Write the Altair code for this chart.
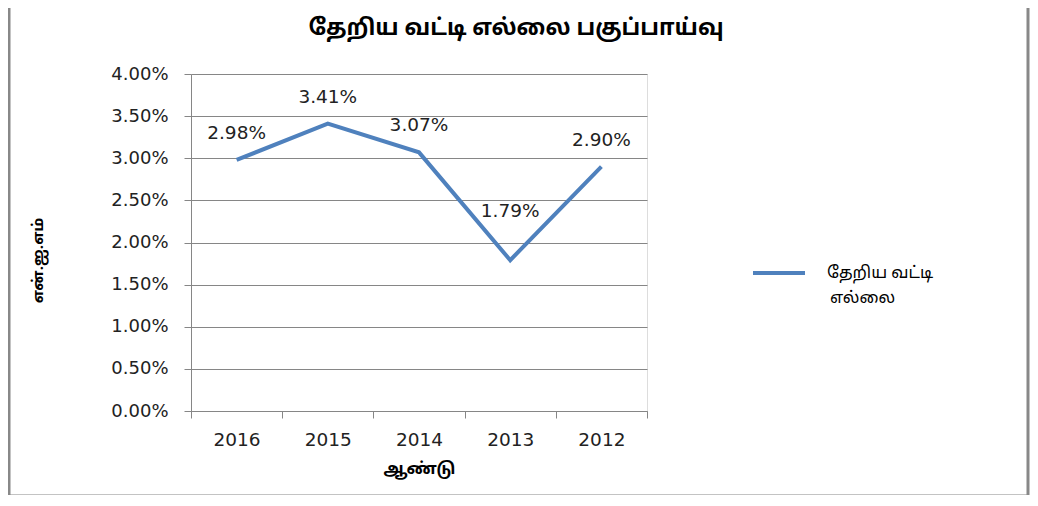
import altair as alt
import pandas as pd

years = ["2016", "2015", "2014", "2013", "2012"]
values = [0.0298, 0.0341, 0.0307, 0.0179, 0.0290]
series_name = "தேறிய வட்டி எல்லை"
title_text = "தேறிய வட்டி எல்லை பகுப்பாய்வு"
y_title = "என்.ஐ.எம்"
x_title = "ஆண்டு"

df = pd.DataFrame({"year": years, "value": values, "series": [series_name] * len(years)})

TAMIL = "Latha, 'Noto Sans Tamil', 'Noto Sans', sans-serif"
LATIN = "'DejaVu Sans', Verdana, sans-serif"
BLUE = "#4F81BD"
GRID = "#868686"

x_enc = alt.X("year:N", sort=years, title=x_title,
              scale=alt.Scale(paddingInner=0, paddingOuter=0),
              axis=alt.Axis(labelAngle=0, tickBand="extent", tickSize=7, labelPadding=12,
                            labelFont=LATIN, labelFontSize=18.5, labelColor="#222",
                            titleFont=TAMIL, titleFontSize=16.5, titleFontWeight="bold",
                            titleColor="#000", titlePadding=12,
                            domainColor=GRID, tickColor=GRID, grid=False))
y_enc = alt.Y("value:Q", title=y_title,
              scale=alt.Scale(domain=[0, 0.04], nice=False),
              axis=alt.Axis(format=".2%", values=[i * 0.005 for i in range(9)],
                            tickSize=7, labelPadding=16,
                            labelFont=LATIN, labelFontSize=18, labelColor="#222",
                            titleFont=TAMIL, titleFontSize=15, titleFontWeight="bold",
                            titleColor="#000", titlePadding=65, titleY=186,
                            domainColor=GRID, tickColor=GRID, gridColor=GRID))

border = alt.Chart(pd.DataFrame({"a": [0]})).mark_rect(
    filled=False, stroke="#888888", strokeWidth=3
).encode(x=alt.value(-182), x2=alt.value(837), y=alt.value(-90), y2=alt.value(422))

title_mark = alt.Chart(pd.DataFrame({"t": [title_text]})).mark_text(
    font=TAMIL, fontSize=22.5, fontWeight="bold", color="#000", align="center", baseline="middle"
).encode(text="t:N", x=alt.value(325), y=alt.value(-46))

line = alt.Chart(df).mark_line(color=BLUE, strokeWidth=4).encode(
    x=x_enc, y=y_enc,
    color=alt.Color("series:N", scale=alt.Scale(range=[BLUE]),
                    legend=alt.Legend(title=None, orient="none", legendX=560, legendY=171,
                                      symbolType="stroke", symbolSize=2704, symbolStrokeWidth=4,
                                      labelFont=TAMIL, labelFontSize=16.5, labelColor="#000",
                                      labelExpr="split(datum.label, ' ')[0] + '  ' + split(datum.label, ' ')[1]",
                                      labelOffset=20, labelLimit=250))
)

labels_main = alt.Chart(df).transform_filter(alt.datum.year != "2013").mark_text(
    dy=-27, font=LATIN, fontSize=18.5, color="#222"
).encode(x=alt.X("year:N", sort=years), y="value:Q", text=alt.Text("value:Q", format=".2%"))

labels_low = alt.Chart(df).transform_filter(alt.datum.year == "2013").mark_text(
    dy=-49, font=LATIN, fontSize=18.5, color="#222"
).encode(x=alt.X("year:N", sort=years), y="value:Q", text=alt.Text("value:Q", format=".2%"))

legend_line2 = alt.Chart(pd.DataFrame({"t": [series_name.split(" ")[2]]})).mark_text(
    font=TAMIL, fontSize=16.5, color="#000", align="left"
).encode(text="t:N", x=alt.value(639), y=alt.value(224))

chart = alt.layer(border, title_mark, line, labels_main, labels_low, legend_line2).properties(
    width=456, height=337,
    padding={"left": 183, "top": 66, "right": 383, "bottom": 84},
    autosize=alt.AutoSizeParams(type="none"),
).configure_view(stroke=None).configure(background="white")

chart.save("out.html", embed_options={"renderer": "svg", "actions": False})
